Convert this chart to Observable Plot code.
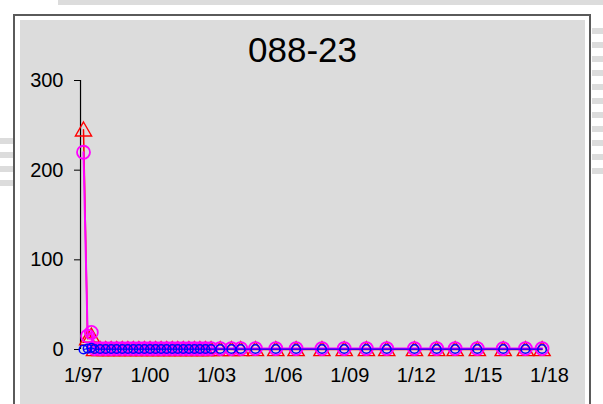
<!DOCTYPE html>
<html>
<head>
<meta charset="utf-8">
<script src="https://cdn.jsdelivr.net/npm/d3@7"></script>
<script src="https://cdn.jsdelivr.net/npm/@observablehq/plot@0.6"></script>
<style>
  html, body { margin: 0; padding: 0; background: #fff; width: 603px; height: 404px; overflow: hidden; font-family: "Liberation Sans", Arial, sans-serif; }
  #topband { position: absolute; left: 58px; top: 0; width: 545px; height: 5px; background: #dcdcdc; }
  #rstripes { position: absolute; left: 592px; top: 28px; width: 11px; height: 152px;
    background: repeating-linear-gradient(to bottom, #dcdcdc 0 6px, #fff 6px 14px); }
  #lstripes { position: absolute; left: 0; top: 138px; width: 13px; height: 48px;
    background: repeating-linear-gradient(to bottom, #dcdcdc 0 6px, #fff 6px 14px); }
  #frame { position: absolute; left: 13px; top: 14px; width: 578px; height: 400px; border: 2px solid #5a5a5a; background: #fff; box-sizing: border-box; }
  #panel { position: absolute; left: 20px; top: 20px; width: 565px; height: 384px; background: #dcdcdc; }
  #title { position: absolute; left: 20px; width: 565px; top: 30px; text-align: center; font-size: 35px; line-height: 40px; color: #000; }
  #chart { position: absolute; left: 0; top: 0; }
</style>
</head>
<body>
<div id="topband"></div>
<div id="rstripes"></div>
<div id="lstripes"></div>
<div id="frame"></div>
<div id="panel"></div>
<div id="title">088-23</div>
<div id="chart"></div>
<script>
const dates = [
  "1997-01-01","1997-03-10","1997-05-10",
  "1997-07-01","1997-10-01","1998-01-01","1998-04-01","1998-07-01","1998-10-01",
  "1999-01-01","1999-04-01","1999-07-01","1999-10-01","2000-01-01","2000-04-01",
  "2000-07-01","2000-10-01","2001-01-01","2001-04-01","2001-07-01","2001-10-01",
  "2002-01-01","2002-04-01","2002-07-01","2002-10-01",
  "2003-03-01","2003-09-01","2004-02-01","2004-10-01","2005-09-01","2006-08-01",
  "2007-10-01","2008-10-01","2009-10-01","2010-09-01","2011-12-01","2012-12-01",
  "2013-10-01","2014-10-01","2015-12-01","2016-12-01","2017-09-01"
];
const redValues = [
  245, 12, 15,
  0, 0, 0, 0, 0, 0,
  0, 0, 0, 0, 0, 0,
  0, 0, 0, 0, 0, 0,
  0, 0, 0, 0,
  0, 0, 0, 0, 0, 0,
  0, 0, 0, 0, 0, 0,
  0, 0, 0, 0, 0
];
const magentaValues = [
  220, 15, 19,
  1, 1, 1, 1, 1, 1,
  1, 1, 1, 1, 1, 1,
  1, 1, 1, 1, 1, 1,
  1, 1, 1, 1,
  1, 1, 1, 1, 1, 1,
  1, 1, 1, 1, 1, 1,
  1, 1, 1, 1, 1
];
const blueValues = [
  0, 1, 2,
  0.5, 0.5, 0.5, 0.5, 0.5, 0.5,
  0.5, 0.5, 0.5, 0.5, 0.5, 0.5,
  0.5, 0.5, 0.5, 0.5, 0.5, 0.5,
  0.5, 0.5, 0.5, 0.5,
  0.5, 0.5, 0.5, 0.5, 0.5, 0.5,
  0.5, 0.5, 0.5, 0.5, 0.5, 0.5,
  0.5, 0.5, 0.5, 0.5, 0.5
];
const xTickYears = ["1997-01-01","2000-01-01","2003-01-01","2006-01-01","2009-01-01","2012-01-01","2015-01-01","2018-01-01"];
const yTicks = [0, 100, 200, 300];
const axisStart = "1996-11-13";

const parse = s => new Date(s + "T00:00:00Z");
const red = dates.map((d, i) => ({date: parse(d), v: redValues[i]}));
const magenta = dates.map((d, i) => ({date: parse(d), v: magentaValues[i]}));
const blue = dates.map((d, i) => ({date: parse(d), v: blueValues[i]}));

const chart = Plot.plot({
  width: 603,
  height: 404,
  marginLeft: 80,
  marginRight: 54,
  marginTop: 80,
  marginBottom: 55,
  style: {background: "transparent", fontFamily: "Liberation Sans, Arial, sans-serif", color: "#000", overflow: "visible"},
  x: {type: "utc", domain: [parse("1997-01-01"), parse("2018-01-01")], range: [83, 549], label: null},
  y: {domain: [0, 300], label: null},
  marks: [
    Plot.ruleX([parse(axisStart)], {y1: 0, y2: 300, stroke: "#000", strokeWidth: 1.2}),
    Plot.axisY({ticks: yTicks, tickSize: 6, tickPadding: 11, fontSize: 20, tickFormat: d => String(d), stroke: "#000", label: null}),
    Plot.axisX({ticks: xTickYears.map(parse), tickSize: 0, tickPadding: 18, fontSize: 20, label: null,
      tickFormat: d => "1/" + String(d.getUTCFullYear()).slice(2)}),
    Plot.line(red, {x: "date", y: "v", stroke: "#ff0000", strokeWidth: 1.5}),
    Plot.dot(red, {x: "date", y: "v", symbol: "triangle", r: 6, dy: 1.5, stroke: "#ff0000", fill: "none", strokeWidth: 1.4}),
    Plot.line(magenta, {x: "date", y: "v", stroke: "#ff00ff", strokeWidth: 2}),
    Plot.dot(magenta, {x: "date", y: "v", symbol: "circle", r: 6.5, stroke: "#ff00ff", fill: "none", strokeWidth: 1.8}),
    Plot.line(blue, {x: "date", y: "v", stroke: "#0000ff", strokeWidth: 1.2}),
    Plot.dot(blue, {x: "date", y: "v", symbol: "circle", r: 4.3, stroke: "#0000ff", fill: "none", strokeWidth: 1.5})
  ]
});
document.getElementById("chart").appendChild(chart);
</script>
</body>
</html>
